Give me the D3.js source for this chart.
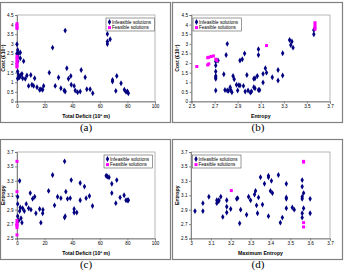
<!DOCTYPE html>
<html>
<head>
<meta charset="utf-8">
<script src="https://cdn.jsdelivr.net/npm/d3@7"></script>
<style>
  body { margin: 0; background: #fff; }
  svg { display: block; }
</style>
</head>
<body>
<div id="chart"></div>
<script>
// tick values
const deficitTicks = [0, 20, 40, 60, 80, 100];
const costTicks = [0, 0.5, 1, 1.5, 2, 2.5, 3, 3.5, 4, 4.5];
const entropyTicks = [2.5, 2.7, 2.9, 3.1, 3.3, 3.5, 3.7];
const maxEntropyTicks = [3, 3.1, 3.2, 3.3, 3.4, 3.5, 3.6, 3.7];

// (a) total deficit vs cost
const aInfeasible = [[0,2.98],[0.5,2.68],[0,2.5],[1.2,2.5],[2.4,2.55],[0.5,2.33],[0.5,2.08],[0.5,1.56],
  [1.2,1.38],[0.5,1.2],[1.9,1.26],[2.9,1.38],[3.6,1.44],[2.4,2.25],[4.8,2.1],[4.1,1.21],[6,1.18],
  [7.2,1.35],[8.4,0.81],[10,1.38],[10.8,0.87],[12,0.81],[12.8,1.21],[14.5,0.74],[16.4,0.61],[17.3,0.64],
  [18.6,0.61],[19.3,0.81],[23.4,1.5],[25.8,2.8],[27.7,0.81],[30.1,1.25],[31.8,0.69],[34.2,0.57],
  [34.9,0.52],[34.9,3.69],[36.1,1.73],[37.3,1.18],[39,1.33],[39.3,0.87],[41.4,0.81],[42.2,0.57],
  [43.9,0.48],[45.8,0.52],[46.5,1.64],[49.4,1.26],[50.6,0.64],[53,0.64],[54.9,0.43],[65.5,3.51],
  [65.5,3.12],[65.5,2.99],[67.5,3.24],[69.2,1.12],[69.2,1.04],[72.3,1.33],[71.6,0.55],[75.4,0.95],
  [77.8,0.61],[80,0.52],[80.7,0.43],[79,0.5]];
const aFeasible = [[0,4.05],[0,3.95],[0,3.85],[0,3.8],[0,2.35],[0,2.25],[0,2.15],[0,2.05],[0,1.95],[0,1.85],[0,1.8]];

// (b) entropy vs cost
const bInfeasible = [[2.71,0.57],[2.71,1.18],[2.71,1.26],[2.71,1.33],[2.71,1.56],[2.71,1.87],[2.71,2.08],
  [2.73,2.13],[2.78,1.42],[2.79,0.6],[2.81,0.57],[2.82,0.55],[2.81,3.0],[2.8,2.42],[2.835,0.74],
  [2.84,0.6],[2.85,0.48],[2.86,1.33],[2.87,1.16],[2.89,0.87],[2.91,0.85],[2.92,0.83],[2.9,0.57],
  [2.92,2.13],[2.94,2.2],[2.96,2.5],[2.95,0.81],[2.965,0.52],[2.98,1.38],[2.99,0.57],[3.01,0.47],
  [3.02,0.52],[3.04,1.18],[3.05,1.21],[3.04,0.74],[3.05,0.69],[3.07,1.33],[3.08,2.72],[3.08,2.42],
  [3.08,0.6],[3.09,0.6],[3.12,1.44],[3.12,0.99],[3.14,1.73],[3.15,1.5],[3.2,1.26],[3.25,1.09],
  [3.25,1.64],[3.29,1.35],[3.29,2.51],[3.35,3.2],[3.36,2.94],[3.37,3.12],[3.38,2.8],[3.56,3.5],[3.56,3.72]];
const bFeasible = [[2.546,1.82],[2.64,2.28],[2.65,2.3],[2.67,2.34],[2.69,2.37],[2.65,1.96],[2.64,1.9],
  [2.71,2.2],[2.72,2.13],[3.15,2.91],[3.57,4.1],[3.57,3.98],[3.57,3.86],[3.57,3.76]];

// (c) total deficit vs entropy
const cInfeasible = [[0.5,3.08],[0.5,2.98],[0.5,2.81],[1.2,2.75],[1.9,3.3],[1.9,2.88],[2.4,2.93],[2.9,2.78],
  [3.6,2.72],[4.1,2.92],[5.3,2.88],[6.7,2.98],[8.4,2.92],[9.6,3.13],[10.1,2.9],[11.3,3.05],[12.8,3.08],
  [13.7,2.85],[16.4,2.91],[17.3,2.72],[18.6,2.85],[18.8,2.9],[22.9,3.16],[25.8,3.38],[27.2,2.96],
  [29.4,3.08],[31.8,3.06],[34.5,3.57],[34.5,2.79],[34.9,2.81],[35.4,3.15],[36.6,3.05],[38.6,3.06],
  [39.3,3.31],[41.4,2.91],[41.4,2.86],[43.3,2.86],[45.8,3.27],[45.8,3.03],[48.9,3.22],[50.1,3.06],
  [52.5,3.09],[54.7,2.95],[64.6,3.37],[65.5,3.36],[66.7,3.35],[68.7,3.26],[68.7,3.13],[71.6,2.99],
  [72.3,3.31],[74.7,3.07],[77.6,3.1],[79,3.03],[80.2,3.03],[80.7,3.03]];
const cFeasible = [[0,3.57],[0,3.15],[0,2.75],[0,2.71],[0,2.69],[0,2.68],[0,2.65],[0,2.55]];

// (d) maximum entropy vs entropy
const dInfeasible = [[3.02,2.88],[3.06,2.99],[3.06,2.88],[3.09,3.08],[3.13,3.03],[3.14,3.02],[3.14,3.03],
  [3.13,2.99],[3.15,3.08],[3.16,2.8],[3.18,3.03],[3.18,2.94],[3.18,2.86],[3.2,2.91],[3.23,3.05],
  [3.235,3.06],[3.25,2.9],[3.245,2.71],[3.28,2.83],[3.29,3.08],[3.3,3.03],[3.32,3.11],[3.325,3.16],
  [3.33,2.96],[3.335,2.85],[3.34,3.07],[3.35,3.35],[3.36,2.97],[3.37,3.26],[3.39,3.37],[3.39,3.35],
  [3.39,2.81],[3.4,3.16],[3.405,3.3],[3.41,3.13],[3.44,3.38],[3.45,2.72],[3.46,2.79],[3.48,3.26],
  [3.48,3.07],[3.48,3.05],[3.48,2.92],[3.51,2.93],[3.52,2.9],[3.56,3.31],[3.56,3.22],[3.56,3.08],
  [3.56,3.05],[3.56,2.85],[3.56,2.79],[3.567,3.13],[3.567,2.92],[3.6,3.05],[3.6,2.85]];
const dFeasible = [[3.203,3.165],[3.567,3.57],[3.567,3.56],[3.567,2.72],[3.567,2.66]];

const legendLabels = ["Infeasible solutions", "Feasible solutions"];
const captions = ["(a)", "(b)", "(c)", "(d)"];

const panels = [
  {ox: 0,   oy: 0,   left: 17, right: 155, xDom: [0, 100], xTicks: deficitTicks, yDom: [0, 4.5], yTicks: costTicks,
   xTitle: "Total Deficit (10³ m)", yTitle: "Cost (£10⁷)", inf: aInfeasible, fea: aFeasible, legendX: 106},
  {ox: 172, oy: 0,   left: 19.5, right: 158, xDom: [2.5, 3.7], xTicks: entropyTicks, yDom: [0, 4.5], yTicks: costTicks,
   xTitle: "Entropy", yTitle: "Cost (£10⁷)", inf: bInfeasible, fea: bFeasible, legendX: 21},
  {ox: 0,   oy: 137, left: 17, right: 155, xDom: [0, 100], xTicks: deficitTicks, yDom: [2.5, 3.7], yTicks: entropyTicks,
   xTitle: "Total Deficit (10³ m)", yTitle: "Entropy", inf: cInfeasible, fea: cFeasible, legendX: 104},
  {ox: 172, oy: 137, left: 19, right: 158, xDom: [3, 3.7], xTicks: maxEntropyTicks, yDom: [2.5, 3.7], yTicks: entropyTicks,
   xTitle: "Maximum Entropy", yTitle: "Entropy", inf: dInfeasible, fea: dFeasible, legendX: 20.5}
];

const svg = d3.select("#chart")
  .append("svg")
  .attr("width", 344)
  .attr("height", 275);

const font = "Liberation Sans, Arial, sans-serif";
const navy = "#000080", magenta = "#ff00ff";
const diamond = d3.symbol().type(d3.symbolDiamond).size(10);
const square = d3.symbol().type(d3.symbolSquare).size(9);

panels.forEach((p, i) => {
  const g = svg.append("g").attr("transform", `translate(${p.ox},${p.oy})`);
  const top = 15, bottom = 101.5;

  // panel frame
  g.append("rect")
    .attr("x", 0.5).attr("y", 2.5)
    .attr("width", 170).attr("height", 120)
    .attr("fill", "none")
    .attr("stroke", "#808080")
    .attr("stroke-width", 1.2);

  const x = d3.scaleLinear().domain(p.xDom).range([p.left, p.right]);
  const y = d3.scaleLinear().domain(p.yDom).range([bottom, top]);

  // plot area border
  g.append("rect")
    .attr("x", p.left).attr("y", top)
    .attr("width", p.right - p.left).attr("height", bottom - top)
    .attr("fill", "none")
    .attr("stroke", "#a6a6a6")
    .attr("stroke-width", 0.8);

  const xAxis = g.append("g")
    .attr("transform", `translate(0,${bottom})`)
    .call(d3.axisBottom(x).tickValues(p.xTicks).tickSize(2).tickPadding(1.5).tickFormat(d => String(d)));
  const yAxis = g.append("g")
    .attr("transform", `translate(${p.left},0)`)
    .call(d3.axisLeft(y).tickValues(p.yTicks).tickSize(2).tickPadding(1.5).tickFormat(d => String(d)));

  [xAxis, yAxis].forEach(ax => {
    ax.select(".domain").attr("stroke", "#707070").attr("stroke-width", 0.8);
    ax.selectAll(".tick line").attr("stroke", "#707070").attr("stroke-width", 0.8);
    ax.selectAll("text")
      .style("font-family", font)
      .style("font-size", "4.6px")
      .attr("fill", "#000");
  });

  // axis titles
  g.append("text")
    .attr("x", (p.left + p.right) / 2)
    .attr("y", 118)
    .attr("text-anchor", "middle")
    .style("font-family", font)
    .style("font-size", "5.2px")
    .style("font-weight", "bold")
    .text(p.xTitle);

  g.append("text")
    .attr("transform", `translate(${p.left - 12.5},${(top + bottom) / 2}) rotate(-90)`)
    .attr("text-anchor", "middle")
    .style("font-family", font)
    .style("font-size", "5.2px")
    .style("font-weight", "bold")
    .text(p.yTitle);

  // points
  g.selectAll(".inf")
    .data(p.inf)
    .enter()
    .append("path")
    .attr("class", "inf")
    .attr("transform", d => `translate(${x(d[0])},${y(d[1])})`)
    .attr("d", diamond)
    .attr("fill", navy);

  g.selectAll(".fea")
    .data(p.fea)
    .enter()
    .append("path")
    .attr("class", "fea")
    .attr("transform", d => `translate(${x(d[0])},${y(d[1])})`)
    .attr("d", square)
    .attr("fill", magenta);

  // legend
  const lg = g.append("g").attr("transform", `translate(${p.legendX},18)`);
  lg.append("rect")
    .attr("width", 48.5).attr("height", 13)
    .attr("fill", "#fff")
    .attr("stroke", "#555")
    .attr("stroke-width", 0.6);
  legendLabels.forEach((lab, j) => {
    lg.append("path")
      .attr("transform", `translate(3.5,${4 + j * 5.6})`)
      .attr("d", j === 0 ? diamond : square)
      .attr("fill", j === 0 ? navy : magenta);
    lg.append("text")
      .attr("x", 6)
      .attr("y", 5.8 + j * 5.6)
      .style("font-family", font)
      .style("font-size", "4.6px")
      .text(lab);
  });

  // caption
  g.append("text")
    .attr("x", 86)
    .attr("y", 131)
    .attr("text-anchor", "middle")
    .style("font-family", "Liberation Serif, Times New Roman, serif")
    .style("font-size", "11px")
    .text(captions[i]);
});
</script>
</body>
</html>
